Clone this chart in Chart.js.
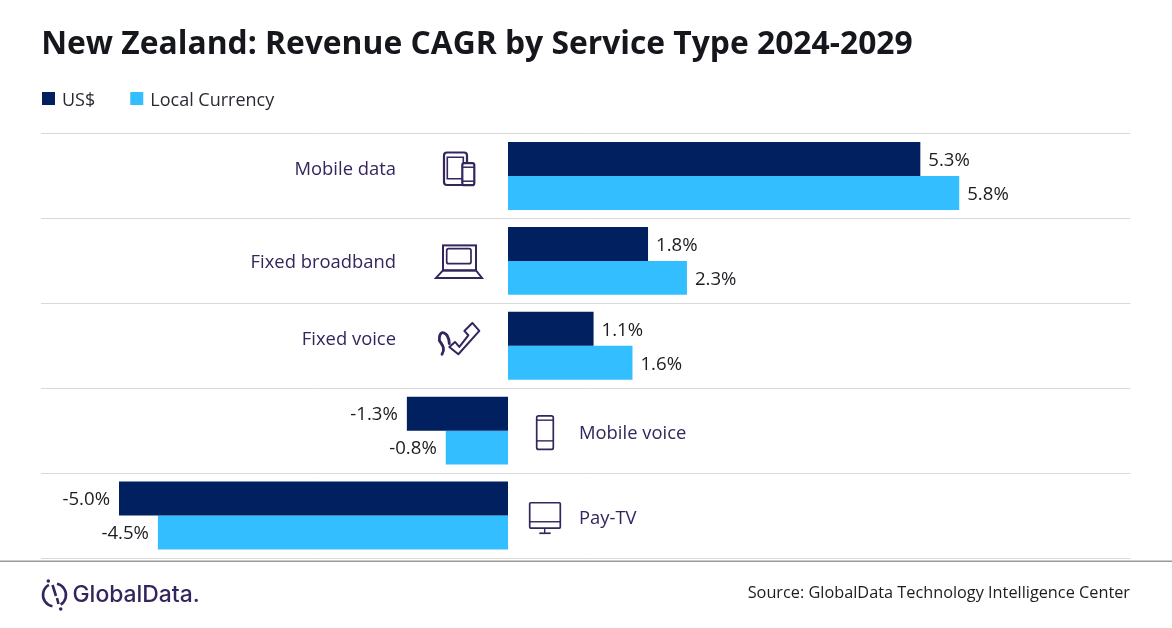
<!DOCTYPE html>
<html><head><meta charset="utf-8">
<style>html,body{margin:0;padding:0;background:#fff}#w{width:1172px;height:628px;position:relative}</style>
<script src="https://cdn.jsdelivr.net/npm/chart.js@4/dist/chart.umd.min.js"></script>
</head><body><div id="w"><canvas id="c" width="1172" height="628"></canvas></div>
<script>
const categories = ["Mobile data","Fixed broadband","Fixed voice","Mobile voice","Pay-TV"];
const usd = [5.3,1.8,1.1,-1.3,-5.0];
const localCurrency = [5.8,2.3,1.6,-0.8,-4.5];
const seriesNames = ["US$","Local Currency"];
const seriesColors = ['#002060','#33bfff'];
const titleText = "New Zealand: Revenue CAGR by Service Type 2024-2029";
const sourceText = "Source: GlobalData Technology Intelligence Center";
const logoText = "GlobalData.";
const FONT = '"Open Sans"';
const labelDy = [-6,2,-6,3,3];
const INK = '#34255c';

function poly(ctx,pts,close){ctx.beginPath();pts.forEach((p,i)=>i?ctx.lineTo(p[0],p[1]):ctx.moveTo(p[0],p[1]));if(close)ctx.closePath();ctx.stroke();}
function rr(ctx,x,y,w,h,r,fill){ctx.beginPath();ctx.roundRect(x,y,w,h,r);if(fill){ctx.fillStyle='#fff';ctx.fill();}ctx.stroke();}
const icons = [
 (c)=>{c.lineWidth=2.2;rr(c,-64,-23.5,23,32.5,3);c.lineWidth=1.6;rr(c,-60.7,-18.8,16,21.5,0);c.lineWidth=2.2;rr(c,-45.7,-12.8,12,22,2,true);c.lineWidth=1.5;poly(c,[[-45.7,-8.8],[-33.7,-8.8]]);poly(c,[[-45.7,5.2],[-33.7,5.2]]);},
 (c)=>{c.lineWidth=2;c.strokeRect(-65,-15.5,33,25);c.lineWidth=1.7;rr(c,-61.3,-12.2,24.3,15,2);c.lineWidth=2;poly(c,[[-65,9.5],[-72,17],[-26,17],[-32,9.5]],true);},
 (c)=>{const m=(x,y)=>[x/3+420-508,y/3+140-345.5];c.lineWidth=2;c.lineJoin='round';poly(c,[m(88,620),m(105,605),m(118,620),m(145,585),m(133,572),m(157,548),m(178,572),m(115,642)],true);c.lineWidth=2.8;c.lineCap='round';c.beginPath();let a=m(88,610),b=m(86,572),d=m(55,565),e=m(58,600),f=m(64,612),g=m(78,622),h=m(66,642);c.moveTo(a[0],a[1]);c.bezierCurveTo(b[0],b[1],d[0],d[1],e[0],e[1]);c.bezierCurveTo(f[0],f[1],g[0],g[1],h[0],h[1]);c.stroke();c.lineCap='butt';},
 (c)=>{c.lineWidth=1.7;rr(c,28.7,-14.8,16.6,33.6,2);c.lineWidth=1.4;poly(c,[[28.7,-10.5],[45.3,-10.5]]);poly(c,[[28.7,10.2],[45.3,10.2]]);},
 (c)=>{c.lineWidth=1.7;rr(c,21.7,-12.8,30.6,25.3,1);c.lineWidth=1.4;poly(c,[[21.7,6.2],[52.3,6.2]]);poly(c,[[36.7,12.5],[36.7,17.5]]);c.lineWidth=1.7;poly(c,[[31.3,17.7],[42.7,17.7]]);}
];

const overlay = {
  id:'overlay',
  afterDatasetsDraw(ch){
    const c=ch.ctx, xs=ch.scales.x, ys=ch.scales.y, zero=xs.getPixelForValue(0);
    c.save();
    c.textBaseline='middle';
    // legend
    c.font='18px '+FONT;c.textAlign='left';
    let lx=42;
    seriesNames.forEach((n,i)=>{
      c.fillStyle=seriesColors[i];c.fillRect(lx,92,13,13);
      c.fillStyle='#2a2a33';c.fillText(n,lx+20,100.5);
      lx+=20+c.measureText(n).width+35;
    });
    [usd,localCurrency].forEach((arr,di)=>{
      const meta=ch.getDatasetMeta(di);
      arr.forEach((v,i)=>{
        const b=meta.data[i];
        c.font='18.6px '+FONT; c.fillStyle='#1c1c22';
        c.textAlign=v>=0?'left':'right';
        c.fillText(v.toFixed(1)+'%', b.x+(v>=0?8:-9), b.y+1.5);
      });
    });
    categories.forEach((n,i)=>{
      const pos=usd[i]>=0, cy=ys.getPixelForValue(i);
      c.font='18.4px '+FONT; c.fillStyle=INK;
      c.textAlign=pos?'right':'left';
      c.fillText(n, zero+(pos?-112:71), cy+labelDy[i]);
      c.save();c.translate(zero,cy);c.strokeStyle=INK;icons[i](c);c.restore();
    });
    // footer
    c.strokeStyle='#999';c.lineWidth=1.5;poly(c,[[0,561.3],[1172,561.3]]);
    c.font='16.3px '+FONT;c.fillStyle='#1c1c22';c.textAlign='right';
    c.fillText(sourceText,1130,593);
    // logo
    c.strokeStyle=INK;c.fillStyle=INK;c.lineWidth=2.6;
    c.beginPath();c.arc(54.5,595,11.5,-1.35,1.0);c.stroke();
    c.beginPath();c.arc(54.5,595,11.5,1.75,4.2);c.stroke();
    poly(c,[[52.5,585],[56,596]]);poly(c,[[57,598],[58.5,604]]);
    c.beginPath();c.arc(48.3,581,1.8,0,7);c.fill();
    c.beginPath();c.arc(60.7,609,1.8,0,7);c.fill();
    c.font='500 22.9px Inter';c.textAlign='left';
    c.fillText(logoText,72.5,595);
    c.restore();
  }
};

new Chart(document.getElementById('c'),{
  type:'bar',
  data:{labels:categories,datasets:[
    {label:seriesNames[0],data:usd,backgroundColor:seriesColors[0]},
    {label:seriesNames[1],data:localCurrency,backgroundColor:seriesColors[1]}
  ]},
  options:{
    indexAxis:'y',responsive:false,animation:false,
    categoryPercentage:0.8,barPercentage:1,
    layout:{padding:{left:41.2,right:41.6,top:26,bottom:62}},
    plugins:{
      title:{display:true,text:titleText,align:'start',color:'#15171c',font:{family:FONT,size:31.8,weight:'bold'},padding:{top:0,bottom:69.4}},
      legend:{display:false},
      tooltip:{enabled:false}
    },
    scales:{
      x:{min:-6,max:8,display:true,grid:{display:false},border:{display:false},ticks:{display:false}},
      y:{display:true,grid:{display:true,offset:true,color:'#d9d9d9',lineWidth:1,drawTicks:false},border:{display:false},ticks:{display:false}}
    }
  },
  plugins:[overlay]
});
</script></body></html>
